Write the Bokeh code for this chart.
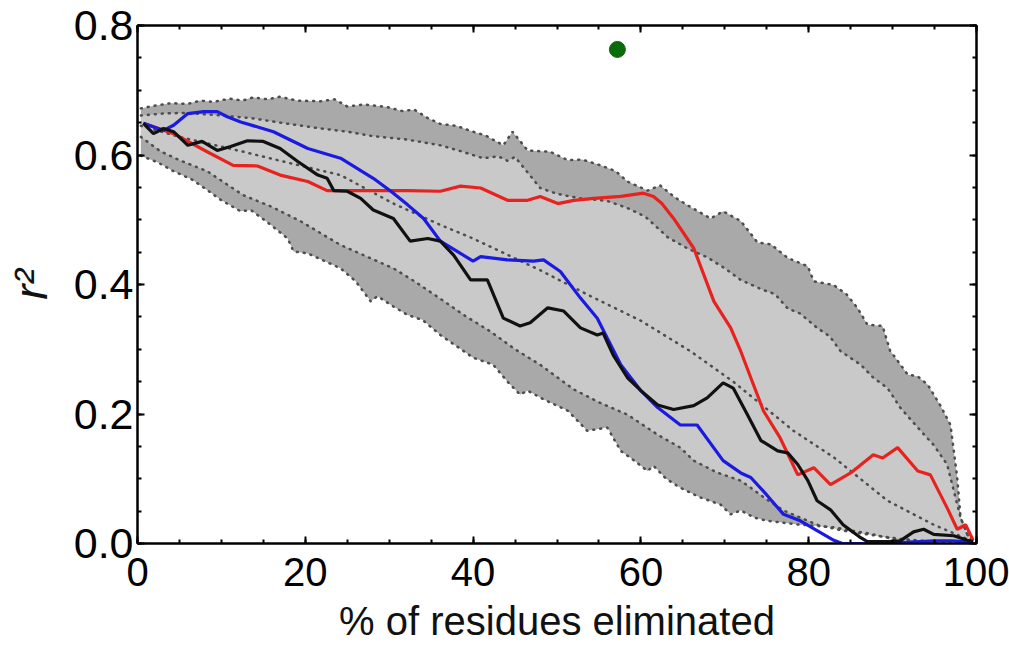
from bokeh.plotting import figure
from bokeh.models import Range1d, FixedTicker, LinearAxis, CustomJSTickFormatter
from bokeh.embed import file_html
from bokeh.resources import INLINE

# ---- data ----
outer_up_x = [0.4, 2, 4, 6, 7.5, 9, 11, 12.5, 13.8, 15.5, 17, 19, 21.8, 23.5, 25, 27, 29.8, 31.5, 33, 34.6,
              36.1, 38, 40, 41.5, 43.6, 44.7, 46.5, 49.2, 51.3, 53, 55.2, 57, 58.4, 60.8, 62.3, 64, 65.6, 68.3,
              69.8, 71.9, 73.9, 75.5, 77.5, 79.9, 80.6, 83, 84.5, 85.8, 87, 88.8, 89.7, 91.8, 93, 94.2, 95.7,
              96.9, 97.7, 98.1, 98.9, 99.6]
outer_up_y = [0.672, 0.676, 0.680, 0.679, 0.684, 0.682, 0.687, 0.684, 0.689, 0.686, 0.690, 0.684, 0.683, 0.686,
              0.675, 0.678, 0.674, 0.668, 0.670, 0.657, 0.648, 0.645, 0.636, 0.630, 0.615, 0.636, 0.607, 0.605,
              0.592, 0.593, 0.584, 0.575, 0.559, 0.545, 0.553, 0.535, 0.522, 0.502, 0.513, 0.498, 0.465, 0.462,
              0.441, 0.428, 0.405, 0.399, 0.385, 0.364, 0.338, 0.336, 0.298, 0.261, 0.258, 0.245, 0.213, 0.183,
              0.102, 0.040, 0.014, 0.003]

outer_lo_x = [0.4, 2.5, 4.3, 6.5, 8.3, 10, 12.3, 13.5, 15.5, 17.9, 18.6, 20.3, 22, 24.2, 26, 27.8, 28.6, 30.5,
              32.2, 34, 36.1, 38, 40, 42.4, 44.1, 45.6, 46.5, 48.5, 51.3, 53.6, 56, 57.6, 59, 60.8, 61.5, 63,
              64.7, 67.1, 69.5, 70.7, 71.9, 73.5, 75.1, 77, 79, 81, 83, 85, 87, 89, 91, 94, 97, 99.6]
outer_lo_y = [0.599, 0.588, 0.575, 0.562, 0.546, 0.530, 0.513, 0.515, 0.496, 0.471, 0.451, 0.448, 0.438, 0.425,
              0.405, 0.374, 0.382, 0.366, 0.353, 0.345, 0.322, 0.305, 0.287, 0.276, 0.250, 0.230, 0.236, 0.222,
              0.205, 0.174, 0.179, 0.143, 0.130, 0.112, 0.120, 0.100, 0.086, 0.071, 0.060, 0.045, 0.051, 0.040,
              0.035, 0.032, 0.029, 0.027, 0.025, 0.020, 0.016, 0.010, 0.005, 0.003, 0.001, 0.0]

inner_up_x = [0.4, 3, 5.5, 9, 13.5, 17, 21.8, 25, 28.1, 32, 36.1, 38.5, 41.2, 43, 44.1, 45, 48, 50, 52.8, 56,
              58.4, 60.5, 63.2, 65.5, 67.9, 70, 71.9, 74.3, 76, 77.5, 79, 81, 82.5, 83.8, 86.2, 87.7, 89.4,
              90.9, 93, 94.9, 96.5, 97.2, 98.1, 98.9, 99.6]
inner_up_y = [0.661, 0.664, 0.665, 0.662, 0.657, 0.650, 0.641, 0.636, 0.629, 0.624, 0.615, 0.606, 0.595, 0.598,
              0.591, 0.597, 0.549, 0.540, 0.533, 0.529, 0.518, 0.505, 0.473, 0.456, 0.442, 0.425, 0.407, 0.393,
              0.385, 0.363, 0.355, 0.333, 0.320, 0.297, 0.276, 0.256, 0.240, 0.210, 0.179, 0.152, 0.122, 0.086,
              0.040, 0.014, 0.002]

inner_lo_x = [0.4, 2.7, 5, 8.3, 10.5, 12.6, 16, 19.4, 24.2, 27, 30.5, 33, 36.1, 39, 42, 45, 48, 52, 55, 58.4,
              62, 64.7, 66.3, 69, 71.9, 73.1, 75, 77, 79, 81, 84, 87, 91, 95.7, 99.6]
inner_lo_y = [0.628, 0.606, 0.592, 0.575, 0.556, 0.538, 0.520, 0.498, 0.461, 0.445, 0.425, 0.405, 0.378, 0.352,
              0.328, 0.300, 0.276, 0.238, 0.218, 0.199, 0.168, 0.148, 0.128, 0.110, 0.097, 0.086, 0.068, 0.051,
              0.040, 0.029, 0.020, 0.014, 0.007, 0.002, 0.0]

median_x = [0.4, 5, 12.3, 18, 24.2, 30.5, 36.1, 40, 48, 54, 60, 65.9, 71, 78.2, 83, 89.4, 94.9, 99.6]
median_y = [0.645, 0.628, 0.606, 0.588, 0.569, 0.525, 0.492, 0.471, 0.422, 0.382, 0.344, 0.297, 0.250, 0.174,
            0.133, 0.066, 0.029, 0.003]

black_x = [0.7, 1.9, 3.1, 4.3, 6.0, 7.7, 9.5, 11.1, 13.1, 15.0, 17.0, 19.1, 21.5, 22.6, 23.4, 25.0, 26.6, 28.1,
           30.5, 32.5, 34.6, 36.1, 37.7, 39.7, 41.7, 43.6, 45.6, 46.8, 48.9, 50.8, 52.8, 54.8, 55.5, 56.7, 58.4,
           60.0, 62.0, 63.9, 66.3, 67.9, 69.8, 71.0, 72.7, 74.3, 76.3, 77.5, 78.7, 79.9, 81.0, 82.6, 84.1, 86.2,
           87.0, 89.4, 90.9, 92.5, 93.7, 94.9, 97.3, 98.9, 99.6]
black_y = [0.649, 0.633, 0.641, 0.636, 0.615, 0.621, 0.607, 0.613, 0.622, 0.621, 0.610, 0.590, 0.569, 0.564,
           0.545, 0.544, 0.533, 0.515, 0.502, 0.467, 0.471, 0.467, 0.445, 0.407, 0.407, 0.348, 0.336, 0.341,
           0.364, 0.359, 0.333, 0.322, 0.325, 0.291, 0.256, 0.236, 0.214, 0.207, 0.213, 0.225, 0.248, 0.240,
           0.199, 0.159, 0.143, 0.140, 0.122, 0.097, 0.066, 0.052, 0.029, 0.009, 0.003, 0.003, 0.004, 0.018,
           0.022, 0.014, 0.012, 0.005, 0.003]

blue_x = [0.7, 3.1, 4.3, 6.0, 7.9, 9.5, 10.7, 12.3, 16.2, 20.3, 24.2, 28.1, 30.2, 32.2, 34.1, 36.1, 38, 40, 40.9,
          44.1, 47.2, 48.4, 50.4, 52.8, 54.8, 56, 57.6, 60, 62, 64.7, 66.7, 69.8, 71.9, 73.1, 75, 77, 79, 81, 83,
          84, 88, 92, 95, 97, 99.6]
blue_y = [0.649, 0.638, 0.646, 0.664, 0.667, 0.667, 0.659, 0.651, 0.636, 0.610, 0.595, 0.564, 0.544, 0.523,
          0.502, 0.467, 0.452, 0.436, 0.443, 0.438, 0.436, 0.438, 0.420, 0.379, 0.348, 0.317, 0.276, 0.236,
          0.210, 0.183, 0.183, 0.128, 0.109, 0.102, 0.075, 0.045, 0.035, 0.020, 0.005, 0.0, 0.0, 0.002, 0.004,
          0.004, 0.002]

red_x = [0.7, 4.3, 8.3, 11.4, 14.3, 17, 20.3, 22.6, 26.2, 32.2, 36.1, 38.5, 40.9, 44.1, 46.5, 48, 50.1, 52,
         54.4, 57.6, 60.3, 61.5, 62.5, 63.9, 66.3, 68.7, 70.7, 71.9, 73.1, 74.6, 76.6, 78.7, 80.6, 82.6, 85,
         87.7, 88.8, 90.6, 93, 94.5, 96.5, 97.7, 98.7, 99.6]
red_y = [0.649, 0.633, 0.605, 0.584, 0.583, 0.569, 0.559, 0.545, 0.545, 0.545, 0.544, 0.552, 0.549, 0.530,
         0.530, 0.536, 0.525, 0.530, 0.533, 0.536, 0.541, 0.536, 0.525, 0.502, 0.456, 0.374, 0.333, 0.297,
         0.256, 0.205, 0.163, 0.106, 0.117, 0.091, 0.109, 0.137, 0.132, 0.148, 0.112, 0.106, 0.055, 0.022,
         0.029, 0.005]

green_x = [57.2]
green_y = [0.763]

x_ticks = [0, 20, 40, 60, 80, 100]
x_minor = [v for v in range(0, 101, 5)]
y_ticks = [0.0, 0.2, 0.4, 0.6, 0.8]
y_minor = [i * 0.05 for i in range(17)]

FONT = "Liberation Sans"

p = figure(width=1009, height=645, output_backend="svg", toolbar_location=None,
           x_range=Range1d(0, 100), y_range=Range1d(0, 0.8),
           min_border_left=137, min_border_right=33, min_border_top=25, min_border_bottom=99)
p.xgrid.visible = False
p.ygrid.visible = False
p.outline_line_color = "black"
p.outline_line_width = 2
p.background_fill_color = "white"

# bands
p.patch(outer_up_x + outer_lo_x[::-1], outer_up_y + outer_lo_y[::-1],
        fill_color="#a9a9a9", line_color=None)
p.patch(inner_up_x + inner_lo_x[::-1], inner_up_y + inner_lo_y[::-1],
        fill_color="#c9c9c9", line_color=None)

dot = dict(line_color="#4d4d4d", line_width=2.5, line_dash="1 6", line_cap="round")
for xs, ys in [(outer_up_x, outer_up_y), (outer_lo_x, outer_lo_y), (inner_up_x, inner_up_y),
               (inner_lo_x, inner_lo_y), (median_x, median_y)]:
    p.line(xs, ys, **dot)

p.line(red_x, red_y, line_color="#e8221f", line_width=3.2)
p.line(blue_x, blue_y, line_color="#1a1ae0", line_width=3.2)
p.line(black_x, black_y, line_color="#111111", line_width=3.2)
p.scatter(green_x, green_y, size=16, fill_color="#0b6b0b", line_color="#0b6b0b")

def style(ax, labels=True, size="40px"):
    ax.axis_line_width = 2
    ax.major_tick_in = 7
    ax.major_tick_out = 0
    ax.minor_tick_in = 4
    ax.minor_tick_out = 0
    ax.major_tick_line_width = 2
    ax.minor_tick_line_width = 2
    if labels:
        ax.major_label_text_font = FONT
        ax.major_label_text_font_size = size
        ax.major_label_text_color = "black"
    else:
        ax.major_label_text_color = None

xa = p.xaxis[0]
xa.ticker = FixedTicker(ticks=x_ticks, minor_ticks=x_minor)
style(xa, size="40px")
xa.major_label_standoff = 14
xa.axis_label = "% of residues eliminated"
xa.axis_label_text_font = FONT
xa.axis_label_text_font_size = "40px"
xa.axis_label_text_font_style = "normal"
xa.axis_label_text_color = "#111111"
xa.axis_label_standoff = 10

ya = p.yaxis[0]
ya.ticker = FixedTicker(ticks=y_ticks, minor_ticks=y_minor)
ya.formatter = CustomJSTickFormatter(code="return tick.toFixed(1);")
style(ya, size="43px")
ya.major_label_standoff = 4
ya.axis_label = "r²"
ya.axis_label_text_font = FONT
ya.axis_label_text_font_size = "46px"
ya.axis_label_text_font_style = "italic"
ya.axis_label_text_color = "#111111"
ya.axis_label_standoff = 14

ra = LinearAxis(ticker=FixedTicker(ticks=y_ticks, minor_ticks=y_minor))
style(ra, labels=False)
p.add_layout(ra, "right")
ta = LinearAxis(ticker=FixedTicker(ticks=x_ticks, minor_ticks=x_minor))
style(ta, labels=False)
p.add_layout(ta, "above")

open("out.html", "w").write(file_html(p, INLINE))
